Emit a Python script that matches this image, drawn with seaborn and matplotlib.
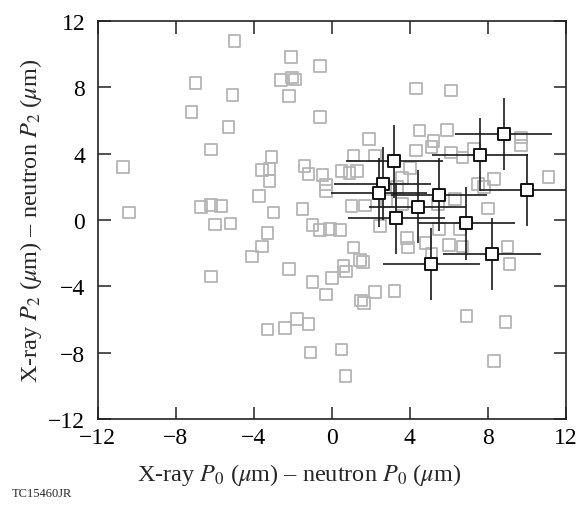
import numpy as np
import pandas as pd
import seaborn as sns
import matplotlib
matplotlib.use("Agg")
import matplotlib.pyplot as plt

# gray points: all shots
gray_x = [-10.7, -10.4, -7.2, -7.0, -5.0, -5.1, -5.3, -6.2, -6.7, -6.2, -5.7, -6.0, -5.2,
          -6.2, -4.1, -3.6, -3.3, -3.0, -3.75, -3.6, -3.2, -3.1, -3.2, -2.1, -0.6, -2.6,
          -1.9, -2.05, -2.2, -0.6, -1.4, -1.2, -0.48, -0.3, -0.3, -1.5, -2.2, -1.0, -0.6,
          -0.1, 0.4, -1.0, -0.3, 0.0, -3.3, -2.4, -1.8, -1.2, -1.1, 0.5, 0.7, 1.1, 1.44,
          1.6, 0.6, 0.72, 1.5, 1.65, 2.2, 3.2, 2.46, 3.85, 3.9, 4.8, 5.1, 5.5, 6.0, 6.7,
          6.56, 9.0, 9.1, 6.9, 8.9, 8.3, 4.3, 6.1, 4.5, 5.9, 5.2, 5.1, 4.3, 1.9, 1.1, 2.2,
          6.1, 6.7, 7.3, 9.7, 9.7, 11.1, 8.3, 7.5, 7.8, 6.3, 8.0, 0.5, 0.9, 1.3, 4.0, 3.6,
          3.35, 3.6, 1.0, 1.7, 5.45, 2.8]
gray_y = [3.2, 0.45, 6.5, 8.25, 10.8, 7.55, 5.6, 4.25, 0.8, 0.9, 0.85, -0.27, -0.2,
          -3.4, -2.2, -1.6, -0.78, 0.46, 1.46, 3.0, 3.07, 3.8, 2.35, 9.84, 9.28, 8.43,
          8.47, 8.6, 7.47, 6.2, 3.27, 2.77, 2.7, 2.15, 1.75, 0.65, -2.97, -0.3, -0.62,
          -0.54, -0.62, -3.75, -4.5, -3.5, -6.6, -6.5, -5.96, -6.27, -8.0, -7.8, -9.4, -1.65, -2.4,
          -2.55, -2.78, -3.1, -4.86, -5.0, -4.36, -4.3, -0.38, -1.1, -1.65, -1.38, -2.02, -0.53, -1.5, -1.6,
          -0.54, -1.62, -2.65, -5.8, -6.15, -8.5, 7.93, 7.8, 5.4, 5.44, 4.75, 4.4, 4.2, 4.88, 3.88, 3.88,
          4.08, 3.78, 4.28, 4.98, 4.5, 2.6, 2.48, 2.16, 1.98, 1.27, 0.69, 2.96, 2.84, 2.96, 3.13, 2.52,
          2.0, 0.98, 0.86, 0.88, 0.97, 1.15]

# black points with error bars
blk_x = [3.2, 8.8, 7.6, 2.6, 2.4, 10.0, 5.5, 4.4, 3.3, 6.9, 8.2, 5.1]
blk_y = [3.53, 5.16, 3.93, 2.2, 1.65, 1.79, 1.52, 0.8, 0.1, -0.2, -2.05, -2.65]
blk_xerr = [2.5, 2.5, 2.45, 2.5, 2.45, 2.4, 2.47, 2.5, 2.5, 2.5, 2.5, 2.5]
blk_yerr = [2.2, 2.17, 2.2, 2.2, 2.1, 2.17, 2.2, 2.2, 2.15, 2.2, 2.15, 2.15]

ticks = [-12, -8, -4, 0, 4, 8, 12]
tick_labels = ["\u221212", "\u22128", "\u22124", "0", "4", "8", "12"]

sns.set_style("ticks")
plt.rcParams["font.family"] = ["Liberation Serif", "DejaVu Serif"]
plt.rcParams["mathtext.fontset"] = "stix"

fig = plt.figure(figsize=(5.79, 5.06), dpi=100)
ax = fig.add_axes([0.169, 0.170, 0.8085, 0.7865])

gray = pd.DataFrame({"x": gray_x, "y": gray_y})
blk = pd.DataFrame({"x": blk_x, "y": blk_y})

sns.scatterplot(data=gray, x="x", y="y", marker="s", s=70, facecolor="none",
                edgecolor="#b4b4b4", linewidth=1.3, ax=ax, zorder=2)
ax.errorbar(blk_x, blk_y, xerr=blk_xerr, yerr=blk_yerr, fmt="none",
            ecolor="#1a1a1a", elinewidth=1.2, capsize=0, zorder=3)
sns.scatterplot(data=blk, x="x", y="y", marker="s", s=80, color="white",
                edgecolor="#111111", linewidth=1.4, ax=ax, zorder=4)

ax.set_xlim(-12, 12)
ax.set_ylim(-12, 12)
ax.set_xticks(ticks)
ax.set_yticks(ticks)
ax.set_xticklabels(tick_labels)
ax.set_yticklabels(tick_labels)
ax.tick_params(direction="in", length=9, width=1.1, top=True, right=True,
               labelsize=17, colors="#222222", labelcolor="black")
ax.tick_params(axis="y", pad=9)
ax.tick_params(axis="x", pad=6)
for sp in ax.spines.values():
    sp.set_linewidth(1.2)
    sp.set_color("#222222")

ax.set_xlabel(r"X-ray $P_0$ ($\mu$m) – neutron $P_0$ ($\mu$m)", fontsize=17.5)
ax.set_ylabel(r"X-ray $P_2$ ($\mu$m) – neutron $P_2$ ($\mu$m)", fontsize=17.5, labelpad=3)
ax.xaxis.set_label_coords(0.43, -0.105)

fig.text(0.02, 0.018, "TC15460JR", fontsize=9)

fig.savefig("out.png", dpi=100)
